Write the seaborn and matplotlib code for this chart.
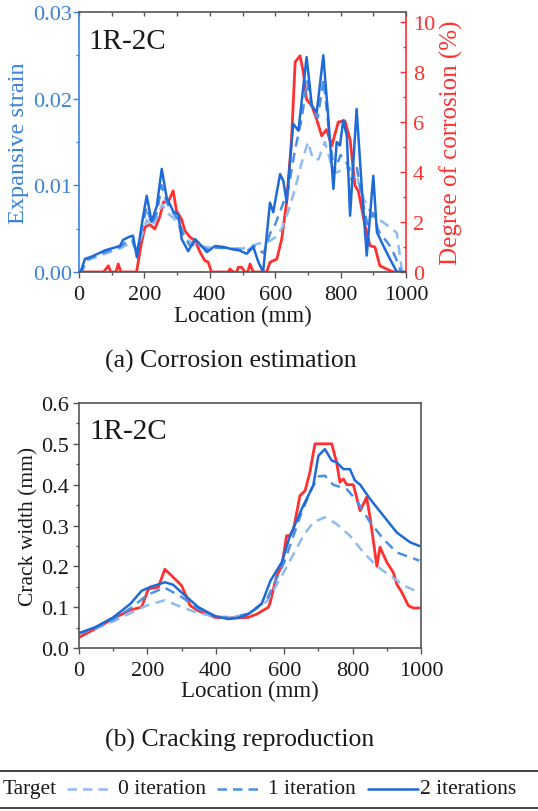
import numpy as np
import pandas as pd
import matplotlib
matplotlib.use("Agg")
import matplotlib.pyplot as plt
import seaborn as sns
from matplotlib.lines import Line2D
from matplotlib.ticker import MultipleLocator

# ---------------- data: (a) corrosion estimation ----------------
tgt_a_x = [0, 75, 90, 97, 113, 120, 128, 176, 190, 202, 217, 232, 248, 258, 273, 288, 298, 314, 324, 339,
           355, 370, 385, 395, 405, 455, 462, 472, 482, 487, 497, 508, 516, 523, 533, 574, 584, 605, 620, 635,
           650, 661, 676, 686, 696, 712, 727, 742, 757, 773, 793, 813, 829, 844, 854, 875, 890, 905, 920, 941,
           961, 1000]
tgt_a_y = [0, 0, 0.25, 0, 0, 0.32, 0, 0, 1.1, 1.8, 1.9, 1.72, 2.25, 2.8, 2.8, 3.25, 2.45, 2.1, 1.65, 1.4,
           1.25, 0.8, 0.45, 0.4, 0, 0, 0.12, 0, 0, 0.19, 0.19, 0, 0, 0.32, 0, 0, 0.39, 0.52, 1.32, 2.8,
           5.3, 8.4, 8.65, 8.0, 6.9, 6.65, 6.1, 5.45, 5.7, 5.05, 6.0, 6.05, 5.3, 3.45, 3.25, 1.85, 1.05, 1.0, 0.25, 0.12,
           0, 0]

it2_a_x = [0, 5, 18, 40, 80, 125, 135, 150, 165, 177, 192, 207, 222, 238, 253, 268, 288, 304, 314, 334,
           355, 375, 391, 416, 440, 471, 490, 513, 533, 548, 563, 584, 594, 615, 625, 635, 655, 671, 696, 712,
           727, 747, 762, 778, 788, 798, 808, 819, 829, 849, 865, 880, 900, 911, 931, 951, 972, 1000]
it2_a_y = [0, 0, 0.0015, 0.0018, 0.0025, 0.0030, 0.0037, 0.0040, 0.0042, 0.0017, 0.0055, 0.0088, 0.0058, 0.0076, 0.0119, 0.0086, 0.0070, 0.0066, 0.0038, 0.0024,
           0.0038, 0.0030, 0.0023, 0.0030, 0.0029, 0.0026, 0.0025, 0.0021, 0.0029, 0.0012, 0.0, 0.0080, 0.0069, 0.0113, 0.0105, 0.0080, 0.0171, 0.0163, 0.0248, 0.0192,
           0.0184, 0.0250, 0.0180, 0.0096, 0.0150, 0.0146, 0.0175, 0.0157, 0.0065, 0.0188, 0.0096, 0.0019, 0.0111, 0.0046, 0.0030, 0.0015, 0.0, 0.0]

it1_a_x = [0, 8, 20, 80, 125, 150, 162, 177, 192, 207, 222, 238, 253, 268, 288, 304, 320, 340, 360, 390,
           420, 470, 513, 535, 550, 565, 585, 600, 620, 640, 660, 680, 698, 715, 730, 748, 765, 780, 800, 820,
           835, 850, 865, 882, 900, 915, 935, 955, 970, 985, 1000]
it1_a_y = [0, 0, 0.0014, 0.0023, 0.0029, 0.0036, 0.0037, 0.0022, 0.0050, 0.0075, 0.0055, 0.0068, 0.0100, 0.0080, 0.0068, 0.0060, 0.0042, 0.0030, 0.0033, 0.0026,
           0.0028, 0.0027, 0.0024, 0.0030, 0.0025, 0.0022, 0.0045, 0.0055, 0.0075, 0.0095, 0.0140, 0.0175, 0.0220, 0.0185, 0.0178, 0.0222, 0.0160, 0.0115, 0.0135, 0.0125,
           0.0105, 0.0120, 0.0085, 0.0055, 0.0068, 0.0048, 0.0038, 0.0028, 0.0015, 0.0, 0.0]

it0_a_x = [0, 10, 22, 80, 125, 150, 162, 177, 195, 207, 222, 240, 255, 270, 290, 310, 335, 360, 400, 450,
           500, 535, 560, 580, 600, 620, 640, 660, 680, 700, 716, 732, 752, 767, 778, 790, 810, 830, 850, 870,
           890, 920, 950, 972, 988, 1000]
it0_a_y = [0, 0, 0.0013, 0.0021, 0.0027, 0.0032, 0.0034, 0.0026, 0.0045, 0.0060, 0.0052, 0.0064, 0.0078, 0.0068, 0.0062, 0.0050, 0.0036, 0.0031, 0.0028, 0.0028,
           0.0027, 0.0031, 0.0034, 0.0035, 0.0040, 0.0050, 0.0070, 0.0095, 0.0125, 0.0150, 0.0130, 0.0130, 0.0150, 0.0130, 0.0115, 0.0115, 0.0120, 0.0120, 0.0110, 0.0085,
           0.0070, 0.0060, 0.0052, 0.0045, 0.0, 0.0]

# ---------------- data: (b) cracking reproduction ----------------
tgt_b_x = [0, 20, 50, 100, 150, 183, 203, 232, 251, 271, 300, 325, 349, 398, 450, 495, 520, 544, 554, 559,
           578, 593, 607, 617, 627, 646, 661, 675, 690, 739, 753, 763, 773, 783, 802, 822, 841, 851, 871, 880,
           900, 919, 929, 944, 963, 977, 995]
tgt_b_y = [0.026, 0.035, 0.048, 0.072, 0.093, 0.100, 0.145, 0.149, 0.193, 0.177, 0.153, 0.104, 0.091, 0.075, 0.073, 0.075, 0.083, 0.095, 0.100, 0.112,
           0.177, 0.200, 0.275, 0.275, 0.290, 0.373, 0.385, 0.430, 0.500, 0.500, 0.455, 0.406, 0.414, 0.400, 0.400, 0.336, 0.369, 0.320, 0.200, 0.247,
           0.210, 0.185, 0.157, 0.136, 0.104, 0.098, 0.098]

it2_b_x = [0, 50, 100, 150, 183, 210, 251, 275, 300, 349, 398, 437, 470, 495, 534, 560, 593, 617, 656, 685,
           700, 719, 739, 753, 773, 792, 807, 822, 851, 890, 929, 968, 995]
it2_b_y = [0.036, 0.052, 0.075, 0.108, 0.140, 0.150, 0.161, 0.155, 0.136, 0.100, 0.078, 0.071, 0.075, 0.083, 0.108, 0.165, 0.210, 0.275, 0.349, 0.398,
           0.471, 0.487, 0.459, 0.455, 0.438, 0.438, 0.410, 0.400, 0.365, 0.324, 0.283, 0.259, 0.250]

it1_b_x = [0, 50, 100, 150, 200, 250, 300, 350, 400, 440, 500, 550, 600, 650, 680, 700, 719, 743, 783, 812,
           851, 890, 929, 995]
it1_b_y = [0.036, 0.050, 0.070, 0.097, 0.130, 0.148, 0.125, 0.095, 0.077, 0.073, 0.085, 0.120, 0.210, 0.330, 0.390, 0.420, 0.422, 0.400, 0.389, 0.361,
           0.308, 0.267, 0.234, 0.214]

it0_b_x = [0, 50, 100, 150, 200, 251, 300, 350, 400, 450, 500, 550, 593, 617, 656, 685, 719, 753, 792, 832,
           871, 910, 949, 995]
it0_b_y = [0.036, 0.048, 0.065, 0.085, 0.105, 0.117, 0.100, 0.085, 0.077, 0.076, 0.085, 0.115, 0.177, 0.214, 0.275, 0.308, 0.320, 0.304, 0.275, 0.234,
           0.200, 0.177, 0.153, 0.136]

legend_labels = ["Target", "0 iteration", "1 iteration", "2 iterations"]

# ---------------- style ----------------
RED = "#FF3030"
C2 = "#1E6AD6"
C1 = "#4B90E6"
C0 = "#8EBBF0"
AXBLUE = "#3A82DC"
GRAY = "#555555"
TXT = "#1a1a1a"

sns.set_style("ticks")
plt.rcParams["font.family"] = ["Liberation Serif", "DejaVu Serif"]
plt.rcParams["mathtext.fontset"] = "stix"

FS = 16
fig = plt.figure(figsize=(5.38, 8.12), dpi=100)
W, H = 538.0, 812.0

def box(l, t, r, b):
    return [l / W, 1 - b / H, (r - l) / W, (b - t) / H]

dash = (4, 2.6)

# ---------------- panel (a) ----------------
ax1 = fig.add_axes(box(79, 13, 406, 273))
ax2 = ax1.twinx()

sns.lineplot(x=it0_a_x, y=it0_a_y, ax=ax1, color=C0, lw=1.8, linestyle=(0, dash), sort=False, estimator=None)
sns.lineplot(x=it1_a_x, y=it1_a_y, ax=ax1, color=C1, lw=1.8, linestyle=(0, dash), sort=False, estimator=None)
sns.lineplot(x=it2_a_x, y=it2_a_y, ax=ax1, color=C2, lw=1.8, sort=False, estimator=None)
sns.lineplot(x=tgt_a_x, y=tgt_a_y, ax=ax2, color=RED, lw=2.0, sort=False, estimator=None)
ax2.set_zorder(ax1.get_zorder() - 1)
ax1.patch.set_visible(False)

ax1.set_xlim(0, 1000)
ax1.set_ylim(0, 0.03)
ax2.set_ylim(0, 10.4)
ax1.xaxis.set_major_locator(MultipleLocator(200))
ax1.xaxis.set_minor_locator(MultipleLocator(100))
ax1.yaxis.set_major_locator(MultipleLocator(0.01))
ax1.yaxis.set_minor_locator(MultipleLocator(0.005))
ax2.yaxis.set_major_locator(MultipleLocator(2))
ax2.yaxis.set_minor_locator(MultipleLocator(1))
ax1.yaxis.set_major_formatter(matplotlib.ticker.FormatStrFormatter("%.2f"))

for sp in ["top", "bottom"]:
    ax1.spines[sp].set_color(GRAY)
    ax2.spines[sp].set_visible(False)
ax1.spines["left"].set_color(AXBLUE)
ax1.spines["right"].set_visible(False)
ax2.spines["left"].set_visible(False)
ax2.spines["right"].set_color(RED)
for sp in ax1.spines.values():
    sp.set_linewidth(1.2)
ax2.spines["right"].set_linewidth(1.2)

ax1.tick_params(axis="x", which="major", direction="out", length=4, width=1, colors=GRAY, labelcolor=TXT, labelsize=FS, pad=5)
ax1.tick_params(axis="x", which="minor", direction="out", length=2.5, width=1, colors=GRAY)
ax1.tick_params(axis="y", which="major", direction="out", length=4, width=1, colors=AXBLUE, labelcolor=AXBLUE, labelsize=FS, pad=1)
ax1.tick_params(axis="y", which="minor", direction="out", length=2.5, width=1, colors=AXBLUE)
ax2.tick_params(axis="y", which="major", direction="in", length=4, width=1, colors=RED, labelcolor=RED, labelsize=FS, pad=5)
ax2.tick_params(axis="y", which="minor", direction="in", length=2.5, width=1, colors=RED)

secx = ax1.secondary_xaxis("top")
secx.xaxis.set_major_locator(MultipleLocator(100))
secx.tick_params(direction="in", length=3, width=1, colors=GRAY, labeltop=False)
secx.spines["top"].set_visible(False)

ax1.set_xlabel("Location (mm)", fontsize=FS + 0.5, color=TXT, labelpad=1)
ax1.set_ylabel("Expansive strain", fontsize=17.5, color=AXBLUE, labelpad=3)
ax2.set_ylabel("Degree of corrosion (%)", fontsize=18, color=RED, labelpad=3)
ax1.text(0.03, 0.94, "1R-2C", transform=ax1.transAxes, fontsize=21, color=TXT, va="top", ha="left")

fig.text(231 / W, 1 - 361 / H, "(a) Corrosion estimation", ha="center", va="center", fontsize=18.5, color=TXT)

# ---------------- panel (b) ----------------
ax3 = fig.add_axes(box(79, 404, 421, 649))
sns.lineplot(x=tgt_b_x, y=tgt_b_y, ax=ax3, color=RED, lw=2.0, sort=False, estimator=None)
sns.lineplot(x=it0_b_x, y=it0_b_y, ax=ax3, color=C0, lw=1.8, linestyle=(0, dash), sort=False, estimator=None)
sns.lineplot(x=it1_b_x, y=it1_b_y, ax=ax3, color=C1, lw=1.8, linestyle=(0, dash), sort=False, estimator=None)
sns.lineplot(x=it2_b_x, y=it2_b_y, ax=ax3, color=C2, lw=1.8, sort=False, estimator=None)
ax3.set_xlim(0, 1000)
ax3.set_ylim(0, 0.6)
ax3.xaxis.set_major_locator(MultipleLocator(200))
ax3.xaxis.set_minor_locator(MultipleLocator(100))
ax3.yaxis.set_major_locator(MultipleLocator(0.1))
ax3.yaxis.set_minor_locator(MultipleLocator(0.05))
ax3.yaxis.set_major_formatter(matplotlib.ticker.FormatStrFormatter("%.1f"))
for sp in ax3.spines.values():
    sp.set_visible(True)
    sp.set_color(GRAY)
    sp.set_linewidth(1.2)
ax3.tick_params(which="major", direction="out", length=4, width=1, colors=GRAY, labelcolor=TXT, labelsize=FS, pad=3)
ax3.tick_params(axis="x", which="major", pad=5)
ax3.tick_params(which="minor", direction="out", length=2.5, width=1, colors=GRAY)
ax3.set_xlabel("Location (mm)", fontsize=FS + 0.5, color=TXT, labelpad=0)
ax3.set_ylabel("Crack width (mm)", fontsize=15.5, color=TXT, labelpad=2)
ax3.text(0.03, 0.94, "1R-2C", transform=ax3.transAxes, fontsize=21, color=TXT, va="top", ha="left")

fig.text(240 / W, 1 - 740 / H, "(b) Cracking reproduction", ha="center", va="center", fontsize=18.5, color=TXT)

# ---------------- legend strip ----------------
for yy in (772, 809):
    fig.add_artist(Line2D([0, 1], [1 - yy / H, 1 - yy / H], transform=fig.transFigure, color="#333333", lw=1.3))
ly = 1 - 790 / H
fig.text(3 / W, ly, legend_labels[0], ha="left", va="center", fontsize=15.5, color=TXT)
handles = [(67, 107.5, C0, (0, (3.8, 2.4))), (217, 257.5, C1, (0, (3.8, 2.4))), (368, 418, C2, "-")]
text_x = [118, 268, 420]
for (x0, x1, c, ls), tx, lab in zip(handles, text_x, legend_labels[1:]):
    fig.add_artist(Line2D([x0 / W, x1 / W], [ly, ly], transform=fig.transFigure, color=c, lw=1.8, linestyle=ls))
    fig.text(tx / W, ly, lab, ha="left", va="center", fontsize=15.5, color=TXT)

fig.savefig("out.png", dpi=100)
